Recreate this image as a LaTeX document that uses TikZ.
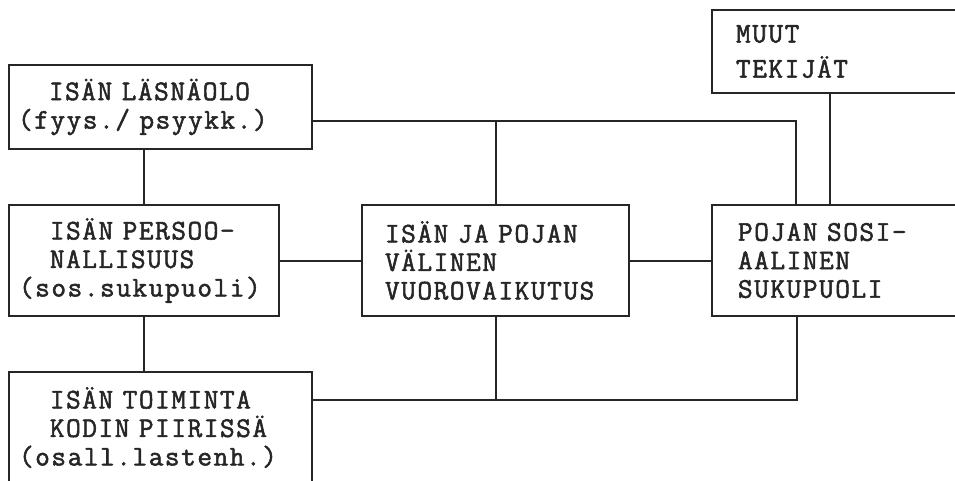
\documentclass[tikz,border=0pt]{standalone}
\usepackage{fontspec}
\usepackage{tikz}
\usetikzlibrary{positioning,calc}
\newfontfamily\kirjoitus[FakeBold=1.8,LetterSpace=5.4]{Latin Modern Mono}
\definecolor{Muste}{HTML}{262626}
\newcommand{\sis}{\phantom{xx}}

\begin{document}
\begin{tikzpicture}[
  x=1pt,y=-1pt,
  laatikko/.style={draw=Muste,line width=2pt,anchor=north west,outer sep=0pt,align=left,
    font=\kirjoitus\fontsize{28.5}{28.5}\selectfont,text=Muste},
  viiva/.style={draw=Muste,line width=2pt}
]
\clip (0,0) rectangle (955,481);
\fill[white] (0,0) rectangle (955,481);
\node[laatikko,inner xsep=9pt,text width=285pt,minimum width=303pt,minimum height=84pt] (lasnaolo) at (9,65)
  {\sis ISÄN LÄSNÄOLO\\(fyys./ psyykk.)};
\node[laatikko,inner xsep=10pt,text width=250pt,minimum width=270pt,minimum height=111pt] (persoona) at (9,205)
  {\sis ISÄN PERSOO-\\\sis NALLISUUS\\(sos.sukupuoli)};
\node[laatikko,inner xsep=10pt,text width=283pt,minimum width=303pt,minimum height=111pt] (toiminta) at (9,372)
  {\sis ISÄN TOIMINTA\\\sis KODIN PIIRISSÄ\\(osall.lastenh.)};
\node[laatikko,inner xsep=23pt,text width=221pt,minimum width=267pt,minimum height=111pt] (vuoro) at (362,205)
  {ISÄN JA POJAN\\VÄLINEN\\VUOROVAIKUTUS};
\node[laatikko,inner xsep=24pt,text width=205pt,minimum width=253pt,minimum height=83pt,
  font=\kirjoitus\fontsize{28.5}{35}\selectfont] (muut) at (712,10)
  {MUUT\\TEKIJÄT};
\node[laatikko,inner xsep=26pt,text width=201pt,minimum width=253pt,minimum height=111pt] (sosiaalinen) at (712,205)
  {POJAN SOSI-\\AALINEN\\SUKUPUOLI};
% kytkennat
\coordinate (yla) at ([yshift=-14pt]lasnaolo.east);
\coordinate (ala) at ([yshift=28pt]toiminta.east);
\coordinate (s1) at ([xshift=84pt]sosiaalinen.north west);
\coordinate (s2) at ([xshift=118pt]sosiaalinen.north west);
\coordinate (s3) at ([xshift=85pt]sosiaalinen.south west);
\draw[viiva] (persoona.north) -- (persoona.north |- lasnaolo.south);
\draw[viiva] (persoona.south) -- (persoona.south |- toiminta.north);
\draw[viiva] (persoona.east) -- (vuoro.west);
\draw[viiva] (vuoro.east) -- (sosiaalinen.west);
\draw[viiva] (yla) -| (s1);
\draw[viiva] (vuoro.north) -- (vuoro.north |- yla);
\draw[viiva] (s2) -- (s2 |- muut.south);
\draw[viiva] (ala) -| (s3);
\draw[viiva] (vuoro.south) -- (vuoro.south |- ala);
\end{tikzpicture}
\end{document}
